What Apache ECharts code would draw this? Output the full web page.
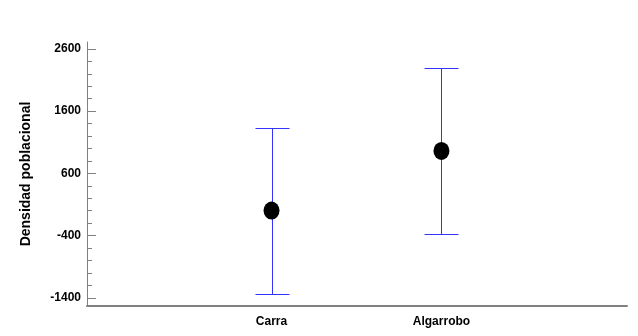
<!DOCTYPE html>
<html>
<head>
<meta charset="utf-8">
<script src="https://cdn.jsdelivr.net/npm/echarts@6/dist/echarts.min.js"></script>
<style>
  html, body { margin: 0; padding: 0; background: #fff; }
  #chart { width: 638px; height: 336px; }
</style>
</head>
<body>
<div id="chart"></div>
<script>
// grupos y sus intervalos (media, limite inferior, limite superior)
const categories = ['Carra', 'Algarrobo']
const positions = [1, 2]
const means = [2, 960]
const lower = [-1330, -370]
const upper = [1335, 2295]
const yMajorTicks = [-1400, -400, 600, 1600, 2600]
const yMinorTicks = []
for (let v = -1400; v <= 2600; v += 200) yMinorTicks.push(v)

const axisColor = '#808080'
const fontFam = 'Liberation Sans, Arial, sans-serif'

let chartDom = document.getElementById('chart')
let myChart = echarts.init(chartDom)

const yBase = {
  type: 'value',
  min: -1530,
  max: 2710,
  splitLine: { show: false }
}

// alinear a medio pixel para lineas nitidas
function snap (v) {
  return Math.round(v) + 0.5
}

let option = {
  animation: false,
  grid: { left: 87, right: 11, top: 42, bottom: 30, containLabel: false },
  xAxis: {
    type: 'value',
    min: -0.086,
    max: 3.092,
    splitLine: { show: false },
    axisLine: { show: true, onZero: false, lineStyle: { color: axisColor, width: 2 } },
    axisTick: { show: false },
    axisLabel: {
      customValues: positions,
      formatter: function (v) {
        let i = positions.indexOf(v)
        return i >= 0 ? categories[i] : ''
      },
      color: '#000',
      fontFamily: fontFam,
      fontWeight: 'bold',
      fontSize: 12,
      margin: 10
    }
  },
  yAxis: [
    Object.assign({}, yBase, {
      name: 'Densidad poblacional',
      nameLocation: 'middle',
      nameGap: 54,
      nameTextStyle: { color: '#000', fontFamily: fontFam, fontWeight: 'bold', fontSize: 14 },
      axisLine: { show: true, onZero: false, lineStyle: { color: axisColor, width: 1 } },
      axisTick: { show: true, inside: true, length: 9, customValues: yMajorTicks, lineStyle: { color: axisColor } },
      axisLabel: {
        customValues: yMajorTicks,
        formatter: function (v) { return String(v) },
        color: '#000',
        fontFamily: fontFam,
        fontWeight: 'bold',
        fontSize: 12,
        margin: 6
      }
    }),
    Object.assign({}, yBase, {
      position: 'left',
      axisLine: { show: false, onZero: false },
      axisTick: { show: true, inside: true, length: 5, customValues: yMinorTicks, lineStyle: { color: axisColor } },
      axisLabel: { show: false }
    })
  ],
  series: [
    {
      type: 'custom',
      name: 'error',
      renderItem: function (params, api) {
        let x = api.value(0)
        let lo = api.coord([x, api.value(1)])
        let hi = api.coord([x, api.value(2)])
        let cx = snap(lo[0])
        let yLo = snap(lo[1])
        let yHi = snap(hi[1])
        let half = 17
        let style = { stroke: '#3333ff', lineWidth: 1 }
        return {
          type: 'group',
          children: [
            { type: 'line', shape: { x1: cx, y1: yLo, x2: cx, y2: yHi }, style: style },
            { type: 'line', shape: { x1: cx - half, y1: yLo, x2: cx + half, y2: yLo }, style: style },
            { type: 'line', shape: { x1: cx - half, y1: yHi, x2: cx + half, y2: yHi }, style: style }
          ]
        }
      },
      data: positions.map((p, i) => [p, lower[i], upper[i]]),
      z: 1
    },
    {
      type: 'scatter',
      symbol: 'circle',
      symbolSize: [16, 18],
      itemStyle: { color: '#000', opacity: 1 },
      data: positions.map((p, i) => [p, means[i]]),
      z: 2
    }
  ]
}

myChart.setOption(option)
</script>
</body>
</html>
